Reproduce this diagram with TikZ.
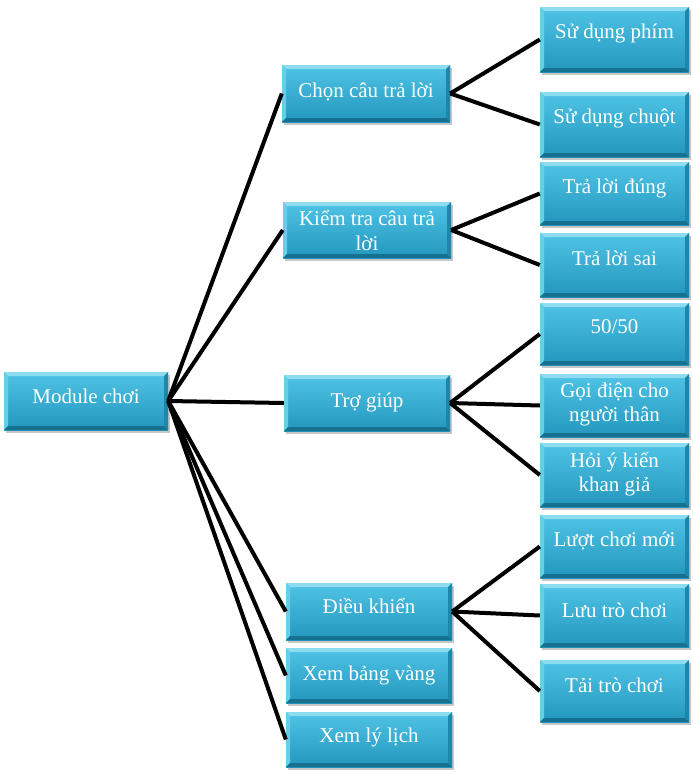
\documentclass[tikz,border=0pt]{standalone}
\usepackage{fontspec}
\setmainfont{Liberation Serif}
\usetikzlibrary{calc}
\definecolor{bxtop}{HTML}{50C4E6}
\definecolor{bxbot}{HTML}{2396BD}
\definecolor{bevtop}{HTML}{8EDCF0}
\definecolor{bevleft}{HTML}{66CEEA}
\definecolor{bevright}{HTML}{1E86AA}
\definecolor{bevbot}{HTML}{16708F}
\tikzset{
  box/.style={rectangle, inner sep=0pt, draw=none, shading=axis, top color=bxtop, bottom color=bxbot,
    path picture={
      \fill[bevtop] (path picture bounding box.north west) -- (path picture bounding box.north east)
        -- ([xshift=-4pt,yshift=-4pt]path picture bounding box.north east)
        -- ([xshift=4pt,yshift=-4pt]path picture bounding box.north west) -- cycle;
      \fill[bevleft] (path picture bounding box.north west) -- ([xshift=4pt,yshift=-4pt]path picture bounding box.north west)
        -- ([xshift=4pt,yshift=4pt]path picture bounding box.south west) -- (path picture bounding box.south west) -- cycle;
      \fill[bevright] (path picture bounding box.north east) -- ([xshift=-4pt,yshift=-4pt]path picture bounding box.north east)
        -- ([xshift=-4pt,yshift=4pt]path picture bounding box.south east) -- (path picture bounding box.south east) -- cycle;
      \fill[bevbot] (path picture bounding box.south west) -- ([xshift=4pt,yshift=4pt]path picture bounding box.south west)
        -- ([xshift=-4pt,yshift=4pt]path picture bounding box.south east) -- (path picture bounding box.south east) -- cycle;
    }},
  shadowbox/.style={fill=black, opacity=0.22},
  txt/.style={text=white, font=\fontsize{21}{24}\selectfont, inner sep=0pt, anchor=base},
  conn/.style={line width=4pt, black},
}
\newcommand{\bx}[5]{%
  \fill[shadowbox] (#2+2,#3+3) rectangle (#4+2,#5+3);
  \node[box, minimum width={(#4-#2)*1pt}, minimum height={(#5-#3)*1pt}] (#1) at ({(#2+#4)/2},{(#3+#5)/2}) {};
}
\begin{document}
\begin{tikzpicture}[x=1pt,y=-1pt]
\useasboundingbox (0,0) rectangle (693,774);
% boxes
\bx{mod}{4}{372}{168}{430}
\bx{chon}{282}{65}{450}{122}
\bx{kiem}{283}{202}{451}{258}
\bx{tro}{284}{375}{450}{431}
\bx{dieu}{286}{583}{452}{640}
\bx{bang}{286}{648}{452}{703}
\bx{lylich}{286}{712}{452}{767}
\bx{phim}{540}{7}{689}{72}
\bx{chuot}{540}{92}{689}{157}
\bx{dung}{540}{162}{689}{225}
\bx{sai}{540}{233}{689}{297}
\bx{ff}{540}{303}{689}{365}
\bx{goi}{540}{374}{689}{437}
\bx{hoi}{540}{443}{689}{507}
\bx{luot}{540}{515}{689}{578}
\bx{luu}{540}{584}{689}{647}
\bx{tai}{540}{660}{689}{722}
% connectors
\draw[conn] (mod.east) -- (chon.west);
\draw[conn] (mod.east) -- (kiem.west);
\draw[conn] (mod.east) -- (tro.west);
\draw[conn] (mod.east) -- (dieu.west);
\draw[conn] (mod.east) -- (bang.west);
\draw[conn] (mod.east) -- (lylich.west);
\draw[conn] (chon.east) -- (phim.west);
\draw[conn] (chon.east) -- (chuot.west);
\draw[conn] (kiem.east) -- (dung.west);
\draw[conn] (kiem.east) -- (sai.west);
\draw[conn] (tro.east) -- (ff.west);
\draw[conn] (tro.east) -- (goi.west);
\draw[conn] (tro.east) -- (hoi.west);
\draw[conn] (dieu.east) -- (luot.west);
\draw[conn] (dieu.east) -- (luu.west);
\draw[conn] (dieu.east) -- (tai.west);
% texts
\node[txt] (tmod) at ([yshift=-32pt]mod.north) {Module chơi};
\node[txt] (tchon) at ([yshift=-33pt]chon.north) {Chọn câu trả lời};
\node[txt] (tkiem1) at ([yshift=-24pt]kiem.north) {Kiểm tra câu trả};
\node[txt] (tkiem2) at ([yshift=-49pt]kiem.north) {lời};
\node[txt] (ttro) at ([yshift=-33pt]tro.north) {Trợ giúp};
\node[txt] (tdieu) at ([yshift=-31pt]dieu.north) {Điều khiển};
\node[txt] (tbang) at ([yshift=-33pt]bang.north) {Xem bảng vàng};
\node[txt] (tly) at ([yshift=-31pt]lylich.north) {Xem lý lịch};
\node[txt] (tphim) at ([yshift=-32pt]phim.north) {Sử dụng phím};
\node[txt] (tchuot) at ([yshift=-32pt]chuot.north) {Sử dụng chuột};
\node[txt] (tdung) at ([yshift=-32pt]dung.north) {Trả lời đúng};
\node[txt] (tsai) at ([yshift=-33pt]sai.north) {Trả lời sai};
\node[txt] (tff) at ([yshift=-31pt]ff.north) {50/50};
\node[txt] (tgoi1) at ([yshift=-24pt]goi.north) {Gọi điện cho};
\node[txt] (tgoi2) at ([yshift=-48pt]goi.north) {người thân};
\node[txt] (thoi1) at ([yshift=-25pt]hoi.north) {Hỏi ý kiến};
\node[txt] (thoi2) at ([yshift=-49pt]hoi.north) {khan giả};
\node[txt] (tluot) at ([yshift=-32pt]luot.north) {Lượt chơi mới};
\node[txt] (tluu) at ([yshift=-34pt]luu.north) {Lưu trò chơi};
\node[txt] (ttai) at ([yshift=-33pt]tai.north) {Tải trò chơi};
\end{tikzpicture}
\end{document}
